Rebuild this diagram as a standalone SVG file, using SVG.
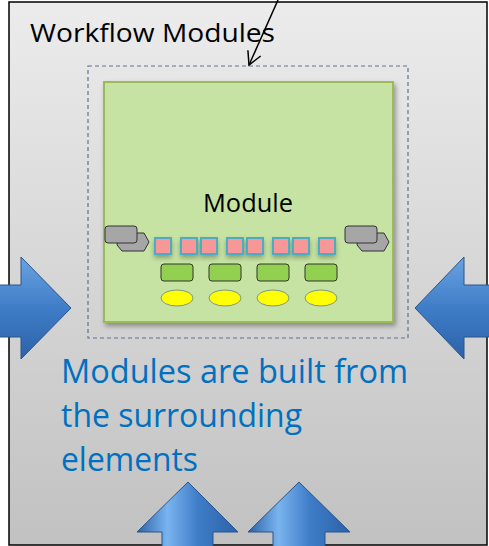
<svg xmlns="http://www.w3.org/2000/svg" width="489" height="546" viewBox="0 0 489 546">
<style>
.lbl{font-family:"Open Sans","Liberation Sans",Arial,sans-serif;fill:#000}
.blue{font-family:"Open Sans","Liberation Sans",Arial,sans-serif;fill:#0070c0;font-size:32px}
.sq{fill:#f79797;stroke:#4bacc6;stroke-width:2}
.gr{fill:#92d050;stroke:#333;stroke-width:1}
.el{fill:#ffff00;stroke:#5f7f9f;stroke-width:0.8}
.gy{fill:#a6a6a6;stroke:#333;stroke-width:1}
.arr{fill:url(#ag);stroke:#2a5588;stroke-width:1}
</style>
<defs>
<linearGradient id="bg" x1="0" y1="0" x2="0" y2="1">
<stop offset="0" stop-color="#ececec"/>
<stop offset="1" stop-color="#c1c1c1"/>
</linearGradient>
<linearGradient id="ag" x1="0" y1="0" x2="0" y2="1">
<stop offset="0" stop-color="#6aa3e0"/>
<stop offset="0.5" stop-color="#3f7dc8"/>
<stop offset="1" stop-color="#2c62a8"/>
</linearGradient>
<linearGradient id="agv" x1="0" y1="0" x2="1" y2="0">
<stop offset="0" stop-color="#2c62a8"/>
<stop offset="0.3" stop-color="#7ab4ef"/>
<stop offset="0.6" stop-color="#3f7dc8"/>
<stop offset="1" stop-color="#2c62a8"/>
</linearGradient>
<filter id="sh" x="-10%" y="-10%" width="130%" height="130%">
<feDropShadow dx="2" dy="3" stdDeviation="2.5" flood-color="#000" flood-opacity="0.35"/>
</filter>
<filter id="ss" x="-50%" y="-50%" width="200%" height="200%">
<feDropShadow dx="0" dy="3" stdDeviation="2.5" flood-color="#000" flood-opacity="0.3"/>
</filter>
<marker id="open" markerWidth="16" markerHeight="16" refX="14" refY="8" orient="auto" markerUnits="userSpaceOnUse">
<path d="M1,1 L14,8 L1,15" fill="none" stroke="#000" stroke-width="1.5"/>
</marker>
</defs>
<rect width="489" height="546" fill="#fff"/>
<g id="frame">
<rect x="9" y="2" width="478" height="543" fill="url(#bg)" stroke="#000" stroke-width="1.5"/>
<text class="lbl" x="30" y="42" font-size="26" textLength="245" lengthAdjust="spacingAndGlyphs">Workflow Modules</text>
</g>
<g id="dashed-box">
<rect x="88" y="66" width="320" height="272" fill="none" stroke="#5a7399" stroke-width="1.2" stroke-dasharray="4,3"/>
</g>
<g id="module">
<rect x="104" y="82" width="289" height="240" fill="#c6e3a3" stroke="#9bbb59" stroke-width="2" filter="url(#sh)"/>
<text class="lbl" x="248" y="212" font-size="26" text-anchor="middle" textLength="90" lengthAdjust="spacingAndGlyphs">Module</text>
</g>
<g id="ports-left">
<path class="gy" d="M119,233 H144 L149,242 L144,251 H122 L117,245 Z"/>
<rect class="gy" x="105" y="226" width="32" height="17" rx="3"/>
</g>
<g id="ports-right">
<path class="gy" d="M359,233 H384 L389,242 L384,251 H362 L357,245 Z"/>
<rect class="gy" x="345" y="226" width="32" height="17" rx="3"/>
</g>
<g id="squares" filter="url(#ss)">
<rect class="sq" x="155" y="238" width="16" height="16"/>
<rect class="sq" x="181" y="238" width="16" height="16"/>
<rect class="sq" x="201" y="238" width="16" height="16"/>
<rect class="sq" x="227" y="238" width="16" height="16"/>
<rect class="sq" x="247" y="238" width="16" height="16"/>
<rect class="sq" x="273" y="238" width="16" height="16"/>
<rect class="sq" x="293" y="238" width="16" height="16"/>
<rect class="sq" x="319" y="238" width="16" height="16"/>
</g>
<g id="green-blocks">
<rect class="gr" x="161" y="264" width="32" height="17" rx="3"/>
<rect class="gr" x="209" y="264" width="32" height="17" rx="3"/>
<rect class="gr" x="257" y="264" width="32" height="17" rx="3"/>
<rect class="gr" x="305" y="264" width="32" height="17" rx="3"/>
</g>
<g id="ellipses">
<ellipse class="el" cx="177" cy="298" rx="16" ry="8"/>
<ellipse class="el" cx="225" cy="298" rx="16" ry="8"/>
<ellipse class="el" cx="273" cy="298" rx="16" ry="8"/>
<ellipse class="el" cx="321" cy="298" rx="16" ry="8"/>
</g>
<g id="arrow-left">
<path class="arr" d="M-2,285 H21 V257 L71,308 L21,359 V337 H-2 Z"/>
</g>
<g id="arrow-right">
<path class="arr" d="M491,285 H464 V257 L415,308 L464,359 V337 H491 Z"/>
</g>
<g id="arrow-bottom-1">
<path d="M162,548 V532 H137 L188,482 L238,532 H213 V548 Z" fill="url(#agv)" stroke="#2a5588" stroke-width="1"/>
</g>
<g id="arrow-bottom-2">
<path d="M273,548 V532 H248 L299,482 L350,532 H325 V548 Z" fill="url(#agv)" stroke="#2a5588" stroke-width="1"/>
</g>
<g id="caption">
<text class="blue" x="61" y="383" textLength="347" lengthAdjust="spacingAndGlyphs">Modules are built from</text>
<text class="blue" x="61" y="427" textLength="241" lengthAdjust="spacingAndGlyphs">the surrounding</text>
<text class="blue" x="61" y="471" textLength="137" lengthAdjust="spacingAndGlyphs">elements</text>
</g>
<g id="connectors">
<line x1="278" y1="0" x2="249" y2="65" stroke="#000" stroke-width="1.5" marker-end="url(#open)"/>
</g>
</svg>
